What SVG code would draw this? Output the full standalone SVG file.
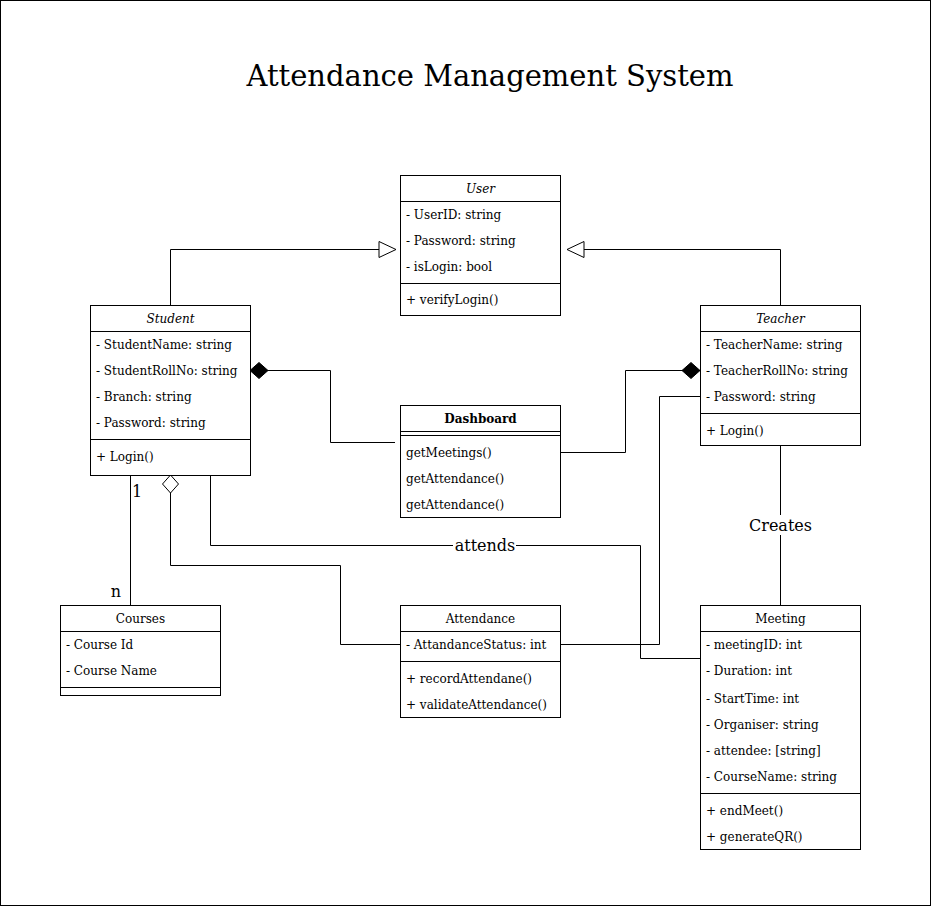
<svg xmlns="http://www.w3.org/2000/svg" width="931" height="907" viewBox="0 0 931 907">
<style>
  .frame{fill:#fff;stroke:#000;stroke-width:1}
  .box{fill:#fff;stroke:#000;stroke-width:1}
  .ln{fill:none;stroke:#000;stroke-width:1}
  text{font-family:"DejaVu Serif","Liberation Serif",serif;font-size:12px;fill:#000}
  .hd{text-anchor:middle}
  .it{font-style:italic}
  .bd{font-weight:bold}
  .lbl{font-size:16px;text-anchor:middle}
  .title{font-size:29px;text-anchor:middle}
</style>
<defs>
  <marker id="gen" markerUnits="userSpaceOnUse" markerWidth="18" markerHeight="18" refX="17" refY="8" orient="auto" overflow="visible">
    <path d="M0,0 L17,8 L0,16 Z" fill="#fff" stroke="#000" stroke-width="1"/>
  </marker>
  <marker id="comp" markerUnits="userSpaceOnUse" markerWidth="20" markerHeight="18" refX="0" refY="8" orient="auto" overflow="visible">
    <path d="M0,8 L9,0 L18,8 L9,16 Z" fill="#000" stroke="#000" stroke-width="1"/>
  </marker>
  <marker id="agg" markerUnits="userSpaceOnUse" markerWidth="20" markerHeight="18" refX="0" refY="8" orient="auto" overflow="visible">
    <path d="M0,8 L9,0 L18,8 L9,16 Z" fill="#fff" stroke="#000" stroke-width="1"/>
  </marker>
</defs>
<rect class="frame" x="0.5" y="0.5" width="930" height="905"/>
<text class="title" x="490" y="86">Attendance Management System</text>

<g id="connectors">
  <path class="ln" d="M170.5,305 V249.5 H396" marker-end="url(#gen)"/>
  <path class="ln" d="M780.5,305 V249.5 H567" marker-end="url(#gen)"/>
  <path class="ln" d="M250,370.5 H330.5 V442.5 H395" marker-start="url(#comp)"/>
  <path class="ln" d="M700,370.5 H625.5 V452.5 H560"  marker-start="url(#comp)"/>
  <path class="ln" d="M700,396.5 H659.5 V644.5 H560"/>
  <path class="ln" d="M210.5,475 V545.5 H640.5 V658.5 H708"/>
  <path class="ln" d="M170.5,475 V565.5 H340.5 V644.5 H400" marker-start="url(#agg)"/>
  <path class="ln" d="M130.5,475 V605"/>
  <path class="ln" d="M780.5,445 V605"/>
  <rect x="453" y="535" width="63" height="20" fill="#fff"/>
  <text class="lbl" x="485" y="551">attends</text>
  <rect x="747" y="515" width="67" height="20" fill="#fff"/>
  <text class="lbl" x="780.5" y="531">Creates</text>
  <text class="lbl" x="137" y="497">1</text>
  <text class="lbl" x="116" y="597">n</text>
</g>

<g id="user">
  <rect class="box" x="400.5" y="175.5" width="160" height="140"/>
  <path class="ln" d="M400.5,201.5 H560.5 M400.5,283.5 H560.5"/>
  <text class="hd it" x="480.5" y="193">User</text>
  <text x="406" y="219">- UserID: string</text>
  <text x="406" y="245">- Password: string</text>
  <text x="406" y="271">- isLogin: bool</text>
  <text x="406" y="304">+ verifyLogin()</text>
</g>

<g id="student">
  <rect class="box" x="90.5" y="305.5" width="160" height="170"/>
  <path class="ln" d="M90.5,331.5 H250.5 M90.5,439.5 H250.5"/>
  <text class="hd it" x="170.5" y="323">Student</text>
  <text x="96" y="349">- StudentName: string</text>
  <text x="96" y="375">- StudentRollNo: string</text>
  <text x="96" y="401">- Branch: string</text>
  <text x="96" y="427">- Password: string</text>
  <text x="96" y="461">+ Login()</text>
</g>

<g id="teacher">
  <rect class="box" x="700.5" y="305.5" width="160" height="140"/>
  <path class="ln" d="M700.5,331.5 H860.5 M700.5,413.5 H860.5"/>
  <text class="hd it" x="780.5" y="323">Teacher</text>
  <text x="706" y="349">- TeacherName: string</text>
  <text x="706" y="375">- TeacherRollNo: string</text>
  <text x="706" y="401">- Password: string</text>
  <text x="706" y="435">+ Login()</text>
</g>

<g id="dashboard">
  <rect class="box" x="400.5" y="405.5" width="160" height="112"/>
  <path class="ln" d="M400.5,431.5 H560.5 M400.5,435.5 H560.5"/>
  <text class="hd bd" x="480.5" y="423">Dashboard</text>
  <text x="406" y="457">getMeetings()</text>
  <text x="406" y="483">getAttendance()</text>
  <text x="406" y="509">getAttendance()</text>
</g>

<g id="courses">
  <rect class="box" x="60.5" y="605.5" width="160" height="90"/>
  <path class="ln" d="M60.5,631.5 H220.5 M60.5,687.5 H220.5"/>
  <text class="hd" x="140.5" y="623">Courses</text>
  <text x="66" y="649">- Course Id</text>
  <text x="66" y="675">- Course Name</text>
</g>

<g id="attendance">
  <rect class="box" x="400.5" y="605.5" width="160" height="112"/>
  <path class="ln" d="M400.5,631.5 H560.5 M400.5,661.5 H560.5"/>
  <text class="hd" x="480.5" y="623">Attendance</text>
  <text x="406" y="649">- AttandanceStatus: int</text>
  <text x="406" y="683">+ recordAttendane()</text>
  <text x="406" y="709">+ validateAttendance()</text>
</g>

<g id="meeting">
  <rect class="box" x="700.5" y="605.5" width="160" height="244"/>
  <path class="ln" d="M700.5,631.5 H860.5 M700.5,793.5 H860.5"/>
  <text class="hd" x="780.5" y="623">Meeting</text>
  <text x="706" y="649">- meetingID: int</text>
  <text x="706" y="675">- Duration: int</text>
  <text x="706" y="703">- StartTime: int</text>
  <text x="706" y="729">- Organiser: string</text>
  <text x="706" y="755">- attendee: [string]</text>
  <text x="706" y="781">- CourseName: string</text>
  <text x="706" y="815">+ endMeet()</text>
  <text x="706" y="841">+ generateQR()</text>
</g>
</svg>
